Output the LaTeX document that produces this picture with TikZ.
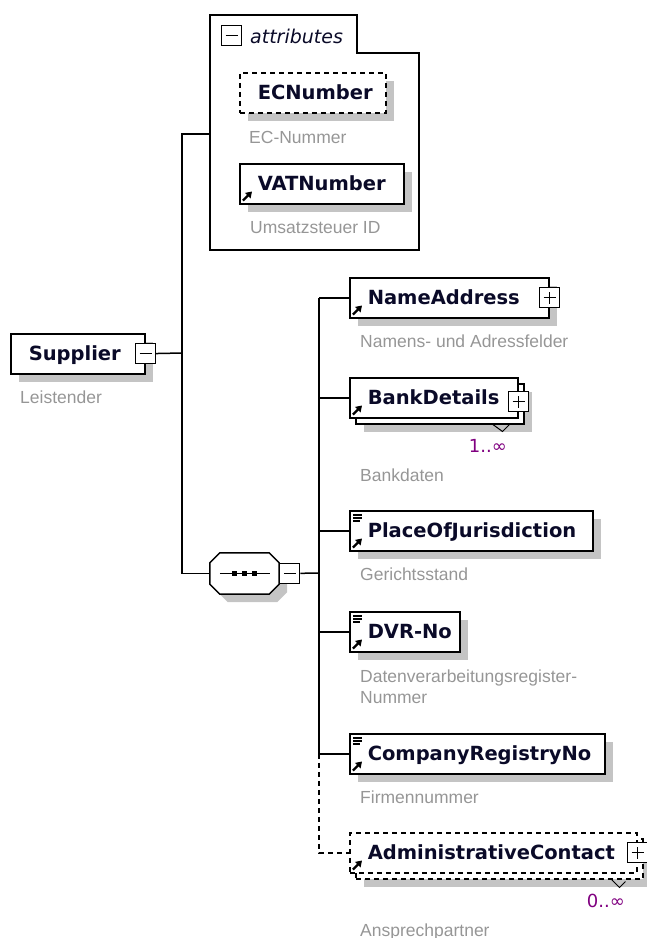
\documentclass[tikz,border=0pt]{standalone}
\usepackage{fontspec}
\newfontfamily\namefont{DejaVu Sans}
\newfontfamily\descfont{Liberation Sans}
\usetikzlibrary{arrows.meta,shadows}
\definecolor{shadowgray}{RGB}{196,196,196}
\definecolor{docgray}{RGB}{150,150,150}
\definecolor{occpurple}{RGB}{128,0,128}
\definecolor{namecol}{RGB}{10,10,40}
\newcommand{\elemfont}{\namefont\bfseries\fontsize{19.5pt}{22pt}\selectfont}
\newcommand{\docfont}{\descfont\fontsize{17.5pt}{21pt}\selectfont}
\newcommand{\reficon}[1]{\draw[refarrow] ([xshift=4pt,yshift=4pt]#1.south west) -- ++(9,-9);}
\newcommand{\typeicon}[1]{\foreach \d/\w in {5/9,8/9,11/7} \draw[line width=1.2pt] ([xshift=4pt,yshift=-\d pt]#1.north west) -- ++(\w,0);}
\tikzset{
  elembox/.style={draw, fill=white, line width=1.5pt, anchor=north west, minimum height=40pt,
    inner xsep=18pt, inner ysep=0pt, text height=16pt, text depth=2pt, text width=#1, align=left,
    font=\elemfont, text=namecol},
  elem/.style={elembox=#1, drop shadow={shadow xshift=8pt, shadow yshift=-8pt, fill=shadowgray, opacity=1}},
  optelem/.style={elem=#1, dash pattern=on 5pt off 4pt},
  manyelem/.style={elembox=#1, drop shadow={shadow xshift=14pt, shadow yshift=-14pt, fill=shadowgray, opacity=1},
    copy shadow={shadow xshift=6pt, shadow yshift=-6pt, draw, fill=white, line width=1.5pt}},
  manyoptelem/.style={manyelem=#1, dash pattern=on 5pt off 4pt},
  togbox/.style={draw, fill=white, line width=1.2pt, minimum size=20pt, inner sep=0pt},
  minusbox/.style={togbox, path picture={
    \draw[line width=1.2pt] ([xshift=4pt]path picture bounding box.west) -- ([xshift=-4pt]path picture bounding box.east);}},
  plusbox/.style={togbox, path picture={
    \draw[line width=1.2pt] ([xshift=4pt]path picture bounding box.west) -- ([xshift=-4pt]path picture bounding box.east);
    \draw[line width=1.2pt] ([yshift=4pt]path picture bounding box.south) -- ([yshift=-4pt]path picture bounding box.north);}},
  seqbox/.style={minimum width=69pt, minimum height=41pt, inner sep=0pt},
  seqshape/.style={draw, fill=white, line width=1.5pt,
    drop shadow={shadow xshift=8pt, shadow yshift=-8pt, fill=shadowgray, opacity=1}},
  doc/.style={anchor=base west, inner sep=0pt, font=\docfont, text=docgray, align=left},
  occ/.style={anchor=base east, inner sep=0pt, font=\namefont\fontsize{18pt}{20pt}\selectfont, text=occpurple},
  attrhead/.style={anchor=base west, inner sep=0pt, font=\namefont\itshape\fontsize{19pt}{22pt}\selectfont, text=namecol},
  frame/.style={line width=1.5pt},
  link/.style={line width=1.5pt},
  optlink/.style={link, dash pattern=on 5pt off 4pt},
  notch/.style={line width=1pt},
  refarrow/.style={line width=2.2pt, -{Triangle[length=6pt,width=7.5pt]}}
}
\begin{document}
\begin{tikzpicture}[x=1pt, y=-1pt]
\useasboundingbox (0,0) rectangle (647,938);
\draw[frame] (210,250) -- (210,15) -- (357,15) -- (357,53) -- (419,53) -- (419,250) -- cycle;
\node[minusbox] (attrtog) at (231.5,35.5) {};
\node[attrhead] (attrname) at (250,43) {attributes};
\node[optelem=110pt] (ecnum) at (239,72) {ECNumber};
\node[doc] (ecdoc) at (249,143) {EC-Nummer};
\node[elem=128pt] (vatnum) at (239,163) {VATNumber};
\node[doc] (vatdoc) at (250,233) {Umsatzsteuer ID};

\node[elem=98pt] (supplier) at (10,333) {Supplier};
\node[minusbox] (suppliertog) at (supplier.east) {};
\node[doc] (supplierdoc) at (20,403) {Leistender};

\node[seqbox] (seq) at (244.5,573.5) {};
\draw[seqshape] ([xshift=10pt]seq.north west) -- ([xshift=-10pt]seq.north east) -- ([yshift=-10pt]seq.north east)
  -- ([yshift=10pt]seq.south east) -- ([xshift=-10pt]seq.south east) -- ([xshift=10pt]seq.south west)
  -- ([yshift=10pt]seq.south west) -- ([yshift=-10pt]seq.north west) -- cycle;
\draw[line width=1.2pt] ([xshift=10pt]seq.west) -- ([xshift=-9pt]seq.east);
\foreach \k in {-10,0,10} {\fill[black] ([xshift=\k pt]seq.center) ++(-2.5,-2.5) rectangle ++(5,5);}
\node[minusbox, anchor=west] (seqtog) at (seq.east) {};

\node[elem=163pt] (nameaddr) at (349,277) {NameAddress};
\node[plusbox] (nametog) at (nameaddr.east) {};
\node[doc] (namedoc) at (360,347) {Namens- und Adressfelder};

\node[manyelem=132pt] (bank) at (349,377) {BankDetails};
\node[plusbox] (banktog) at ([yshift=-4pt]bank.east) {};
\node[occ] (bankocc) at (507,452) {1..∞};
\node[doc] (bankdoc) at (360,481) {Bankdaten};

\node[elem=207pt] (place) at (349,510) {PlaceOfJurisdiction};
\node[doc] (placedoc) at (360,580) {Gerichtsstand};

\node[elem=74pt] (dvr) at (349,611) {\mbox{DVR-No}};
\node[doc] (dvrdoc) at (360,703) {Datenverarbeitungsregister-\\Nummer};

\node[elem=219pt] (compreg) at (349,733) {CompanyRegistryNo};
\node[doc] (compregdoc) at (360,803) {Firmennummer};

\node[manyoptelem=251pt] (admin) at (349,832) {AdministrativeContact};
\node[plusbox] (admintog) at (admin.east) {};
\node[occ] (adminocc) at (625,907) {0..∞};
\node[doc] (admindoc) at (360,936) {Ansprechpartner};

\foreach \n in {vatnum,nameaddr,bank,place,dvr,compreg,admin} {\reficon{\n}}
\foreach \n in {place,dvr,compreg} {\typeicon{\n}}
\draw[notch] ([xshift=-27pt,yshift=-5pt]bank.south east) -- ++(11,8) -- ++(8,-8);
\draw[notch] ([xshift=-26pt,yshift=-6pt]admin.south east) -- ++(8,8) -- ++(6,-6);

\coordinate (attrin) at (210,134);
\coordinate (spine) at (182,353);
\coordinate (kids) at (319,573);
\draw[link] (suppliertog) -- (spine);
\draw[link] (attrin) -| (spine) |- (seq);
\draw[link] (seqtog) -- (kids);
\foreach \n in {nameaddr,bank,place,dvr,compreg} {\draw[link] (\n.west) -- (\n.west -| kids);}
\draw[link] (nameaddr.west -| kids) -- (compreg.west -| kids);
\draw[optlink] (compreg.west -| kids) |- (admin.west);
\end{tikzpicture}
\end{document}
